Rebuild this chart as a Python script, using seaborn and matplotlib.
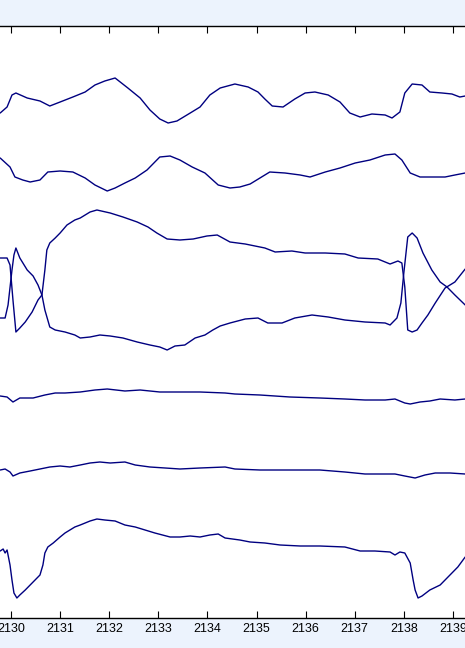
import numpy as np
import pandas as pd
import matplotlib
matplotlib.use('Agg')
import matplotlib.pyplot as plt
import seaborn as sns

# time axis ticks (seconds)
tick_values = [2130, 2131, 2132, 2133, 2134, 2135, 2136, 2137, 2138, 2139]
x_range = (2129.776, 2139.246)
y_range = (0.0, 59.2)

# trace 1
t1 = [2129.78, 2129.92, 2130.02, 2130.10, 2130.33, 2130.59, 2130.79, 2131.00, 2131.26, 2131.51,
      2131.71, 2131.91, 2132.12, 2132.38, 2132.63, 2132.83, 2133.03, 2133.20, 2133.38, 2133.65,
      2133.85, 2134.05, 2134.26, 2134.56, 2134.83, 2135.03, 2135.17, 2135.32, 2135.54, 2135.78,
      2135.99, 2136.19, 2136.46, 2136.70, 2136.90, 2137.11, 2137.35, 2137.62, 2137.76, 2137.92,
      2138.02, 2138.17, 2138.37, 2138.53, 2138.78, 2138.98, 2139.14, 2139.25]
v1 = [50.5, 51.1, 52.3, 52.5, 52.0, 51.7, 51.2, 51.6, 52.1, 52.6,
      53.3, 53.7, 54.0, 53.0, 52.0, 50.8, 49.9, 49.5, 49.7, 50.5,
      51.1, 52.3, 53.0, 53.4, 53.1, 52.6, 51.9, 51.2, 51.1, 51.9,
      52.5, 52.6, 52.3, 51.6, 50.5, 50.1, 50.4, 50.3, 50.0, 50.6,
      52.5, 53.4, 53.3, 52.6, 52.5, 52.4, 52.1, 52.2]

# trace 2
t2 = [2129.78, 2129.98, 2130.08, 2130.24, 2130.39, 2130.59, 2130.75, 2131.00, 2131.26, 2131.51,
      2131.71, 2131.96, 2132.12, 2132.32, 2132.53, 2132.77, 2133.03, 2133.24, 2133.44, 2133.69,
      2133.95, 2134.22, 2134.46, 2134.66, 2134.87, 2135.07, 2135.27, 2135.58, 2135.89, 2136.09,
      2136.40, 2136.70, 2137.01, 2137.31, 2137.62, 2137.82, 2137.96, 2138.13, 2138.33, 2138.57,
      2138.84, 2139.04, 2139.25]
v2 = [46.0, 45.1, 44.1, 43.8, 43.6, 43.8, 44.6, 44.7, 44.6, 44.0,
      43.3, 42.7, 43.0, 43.5, 44.0, 44.8, 46.1, 46.2, 45.8, 45.1,
      44.5, 43.3, 43.0, 43.1, 43.4, 44.0, 44.6, 44.5, 44.3, 44.1,
      44.6, 45.0, 45.5, 45.8, 46.3, 46.4, 45.8, 44.5, 44.1, 44.1,
      44.1, 44.3, 44.5]

# trace 3, first channel
t3a = [2129.78, 2129.92, 2129.98, 2130.04, 2130.10, 2130.18, 2130.29, 2130.43, 2130.55, 2130.63,
       2130.69, 2130.73, 2130.79, 2130.90, 2131.00, 2131.14, 2131.30, 2131.41, 2131.61, 2131.75,
       2132.02, 2132.28, 2132.57, 2132.79, 2132.97, 2133.18, 2133.44, 2133.71, 2133.99, 2134.20,
       2134.46, 2134.77, 2135.17, 2135.38, 2135.72, 2135.99, 2136.40, 2136.80, 2137.07, 2137.47,
       2137.72, 2137.88, 2137.96, 2138.02, 2138.08, 2138.17, 2138.27, 2138.37, 2138.49, 2138.64,
       2138.84, 2139.04, 2139.25]
v3a = [36.0, 36.0, 35.3, 31.8, 28.6, 29.0, 29.6, 30.6, 31.8, 32.3,
       34.8, 36.8, 37.5, 38.0, 38.5, 39.3, 39.8, 40.0, 40.6, 40.8,
       40.5, 40.1, 39.6, 39.1, 38.5, 37.9, 37.8, 37.9, 38.2, 38.3,
       37.6, 37.4, 37.0, 36.6, 36.7, 36.5, 36.5, 36.4, 36.0, 35.9,
       35.4, 35.7, 35.5, 33.1, 28.8, 28.6, 28.8, 29.5, 30.3, 31.5,
       33.0, 33.6, 34.9]

# trace 3, second channel
t3b = [2129.78, 2129.88, 2129.94, 2130.02, 2130.06, 2130.10, 2130.18, 2130.33, 2130.45, 2130.55,
       2130.63, 2130.69, 2130.79, 2130.90, 2131.10, 2131.30, 2131.41, 2131.61, 2131.81, 2132.02,
       2132.28, 2132.57, 2132.83, 2133.03, 2133.18, 2133.34, 2133.54, 2133.75, 2133.95, 2134.11,
       2134.26, 2134.46, 2134.77, 2135.03, 2135.23, 2135.52, 2135.78, 2136.13, 2136.46, 2136.80,
       2137.21, 2137.62, 2137.72, 2137.86, 2137.94, 2138.00, 2138.08, 2138.17, 2138.27, 2138.39,
       2138.57, 2138.74, 2138.88, 2139.04, 2139.25]
v3b = [30.0, 30.0, 31.3, 34.8, 36.3, 37.0, 36.0, 34.8, 34.2, 33.3,
       32.3, 30.8, 29.1, 28.8, 28.6, 28.3, 28.0, 28.1, 28.3, 28.2,
       28.0, 27.6, 27.3, 27.1, 26.8, 27.2, 27.3, 28.0, 28.3, 28.8,
       29.2, 29.5, 29.9, 30.0, 29.5, 29.5, 30.0, 30.3, 30.1, 29.8,
       29.6, 29.5, 29.3, 30.0, 31.5, 34.5, 38.1, 38.5, 38.0, 36.5,
       34.8, 33.6, 33.1, 32.3, 31.3]

# trace 4
t4 = [2129.78, 2129.92, 2130.04, 2130.18, 2130.45, 2130.69, 2130.90, 2131.10, 2131.41, 2131.71,
      2131.96, 2132.32, 2132.63, 2133.03, 2133.44, 2133.85, 2134.36, 2134.56, 2135.07, 2135.68,
      2136.29, 2136.80, 2137.21, 2137.62, 2137.82, 2138.02, 2138.13, 2138.33, 2138.53, 2138.74,
      2139.04, 2139.25]
v4 = [22.2, 22.1, 21.6, 22.0, 22.0, 22.3, 22.5, 22.5, 22.6, 22.8,
      22.9, 22.7, 22.8, 22.6, 22.6, 22.6, 22.5, 22.4, 22.3, 22.1,
      22.0, 21.9, 21.8, 21.8, 21.9, 21.5, 21.4, 21.6, 21.7, 21.9,
      21.8, 21.9]

# trace 5
t5 = [2129.78, 2129.88, 2129.98, 2130.04, 2130.18, 2130.39, 2130.59, 2130.79, 2131.00, 2131.20,
      2131.41, 2131.61, 2131.81, 2132.02, 2132.32, 2132.53, 2132.83, 2133.14, 2133.44, 2133.85,
      2134.36, 2134.56, 2135.07, 2135.89, 2136.29, 2136.80, 2137.21, 2137.82, 2138.02, 2138.23,
      2138.43, 2138.64, 2138.94, 2139.25]
v5 = [14.8, 14.9, 14.6, 14.2, 14.5, 14.7, 14.9, 15.1, 15.2, 15.1,
      15.3, 15.5, 15.6, 15.5, 15.6, 15.3, 15.1, 15.0, 14.9, 15.0,
      15.1, 14.9, 14.8, 14.8, 14.8, 14.6, 14.4, 14.4, 14.2, 14.0,
      14.3, 14.5, 14.5, 14.4]

# trace 6
t6 = [2129.78, 2129.84, 2129.88, 2129.92, 2129.98, 2130.02, 2130.06, 2130.12, 2130.18, 2130.29,
      2130.39, 2130.49, 2130.59, 2130.65, 2130.69, 2130.75, 2130.86, 2131.00, 2131.10, 2131.20,
      2131.30, 2131.41, 2131.61, 2131.75, 2131.91, 2132.12, 2132.32, 2132.53, 2132.73, 2132.93,
      2133.24, 2133.44, 2133.65, 2133.85, 2134.05, 2134.22, 2134.36, 2134.66, 2134.87, 2135.17,
      2135.48, 2135.89, 2136.29, 2136.80, 2137.11, 2137.41, 2137.72, 2137.82, 2137.92, 2138.02,
      2138.13, 2138.19, 2138.23, 2138.29, 2138.37, 2138.53, 2138.74, 2138.94, 2139.10, 2139.25]
v6 = [6.7, 6.9, 6.5, 6.8, 5.3, 3.8, 2.5, 2.0, 2.3, 2.8,
      3.3, 3.8, 4.3, 5.3, 6.5, 7.1, 7.5, 8.1, 8.5, 8.8,
      9.1, 9.3, 9.7, 9.9, 9.8, 9.7, 9.3, 9.1, 8.8, 8.5,
      8.1, 8.1, 8.2, 8.1, 8.3, 8.4, 8.0, 7.8, 7.6, 7.5,
      7.3, 7.2, 7.2, 7.1, 6.7, 6.7, 6.6, 6.3, 6.6, 6.5,
      5.5, 3.8, 2.8, 2.0, 2.2, 2.8, 3.3, 4.3, 5.1, 6.1]

traces = [(t1, v1), (t2, v2), (t3a, v3a), (t3b, v3b), (t4, v4), (t5, v5), (t6, v6)]

sns.set_style('white')
plt.rcParams['font.family'] = ['Liberation Sans', 'DejaVu Sans']

fig = plt.figure(figsize=(4.65, 6.48), dpi=100)
fig.patch.set_facecolor('#ecf3fd')
ax = fig.add_axes([0.0, 30 / 648, 1.0, 592 / 648])
ax.set_facecolor('white')

line_color = '#000080'
for t, v in traces:
    sns.lineplot(x=t, y=v, ax=ax, color=line_color, linewidth=1.0, estimator=None, sort=False)

ax.set_xlim(*x_range)
ax.set_ylim(*y_range)
ax.set_xticks(tick_values)
ax.set_xticklabels([str(v) for v in tick_values], fontsize=9)
ax.set_yticks([])
ax.tick_params(axis='x', direction='in', length=5, width=0.8, top=True, bottom=True,
               pad=3.5, colors='black')
for side in ['left', 'right']:
    ax.spines[side].set_visible(False)
for side in ['top', 'bottom']:
    ax.spines[side].set_visible(True)
    ax.spines[side].set_color('black')
    ax.spines[side].set_linewidth(1.0)

fig.savefig('out.png', dpi=100, facecolor=fig.get_facecolor())
